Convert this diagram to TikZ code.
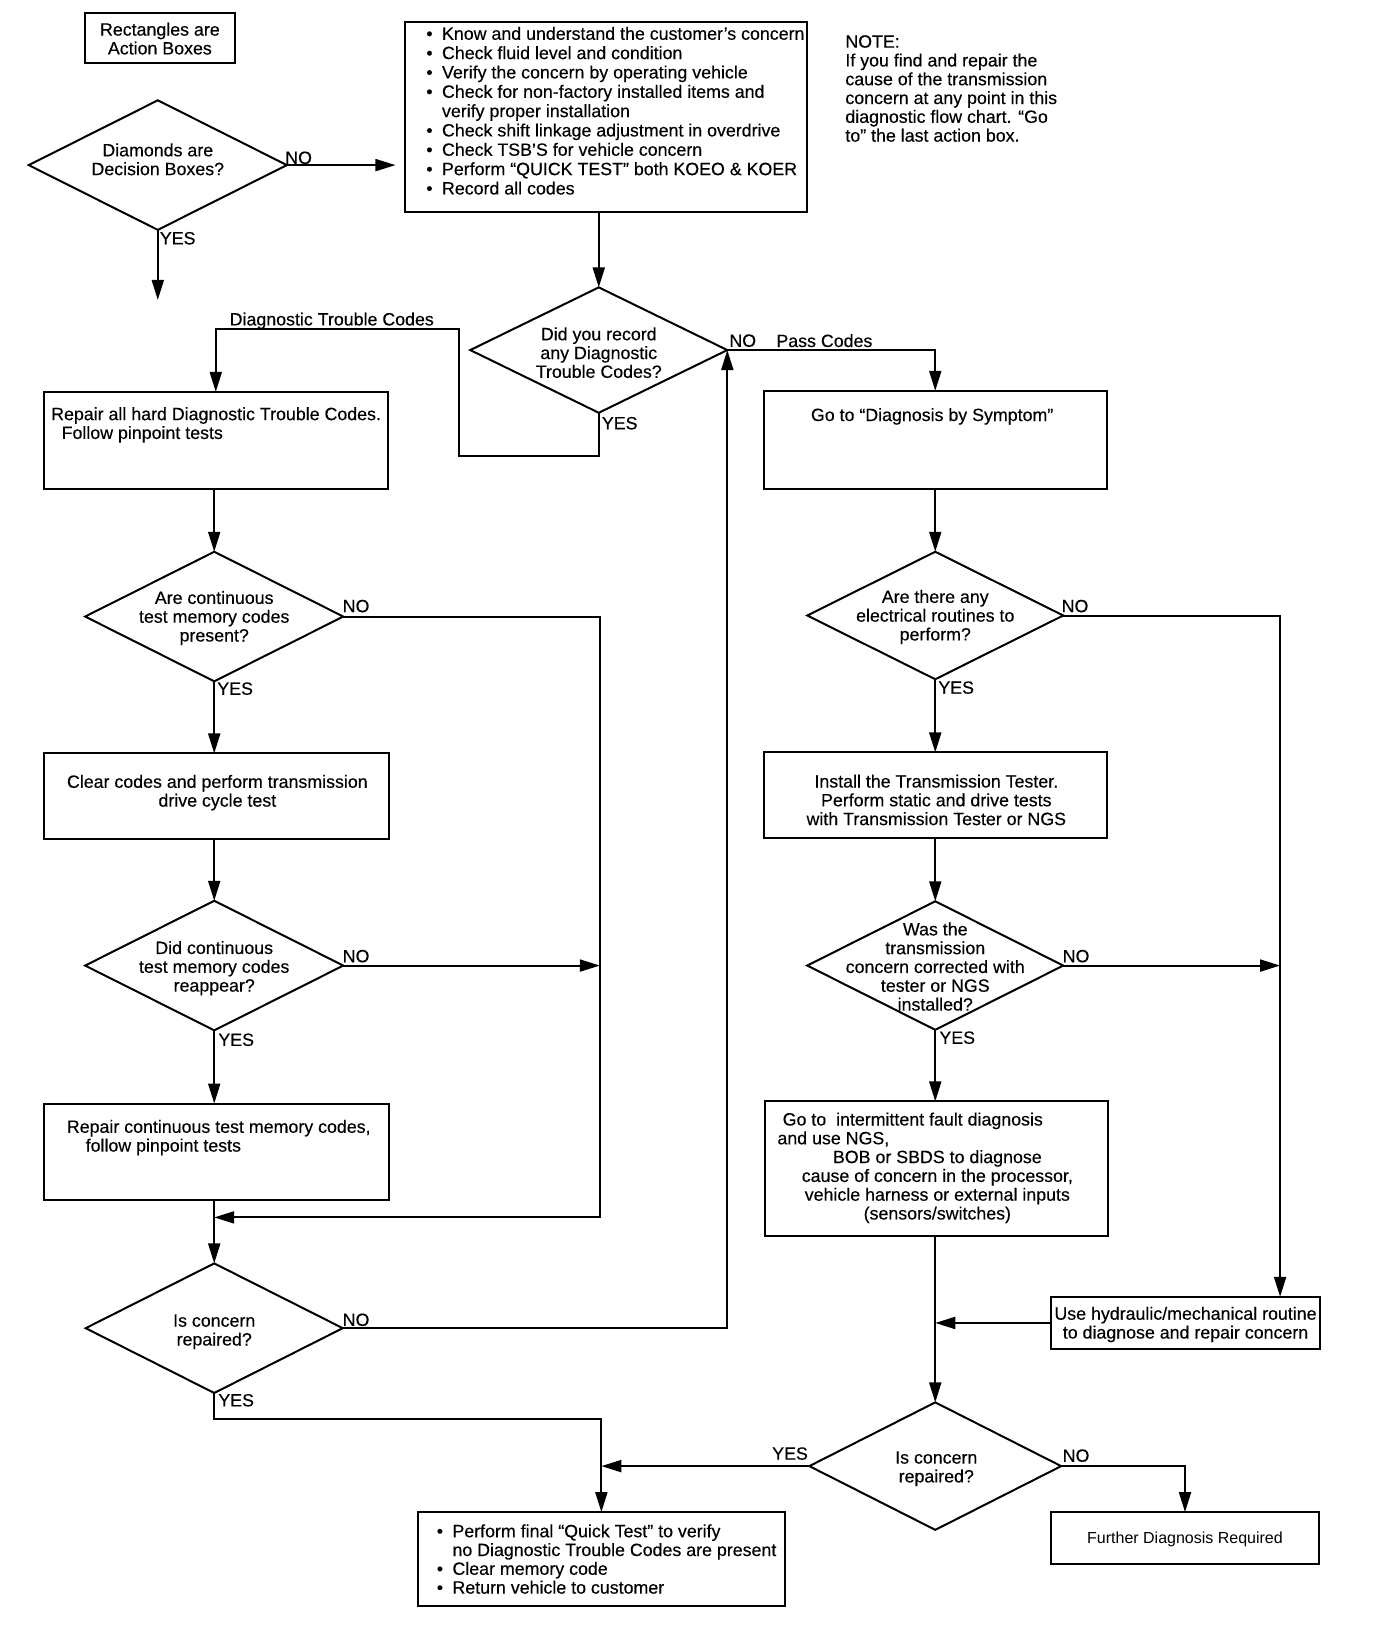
\documentclass[tikz,border=0pt]{standalone}
\usepackage{fontspec}
\setmainfont{Liberation Sans}[FakeBold=0.3]
\newfontfamily\thinfont{Liberation Sans}
\usetikzlibrary{shapes.geometric,arrows.meta}
\newlength{\dunit}\setlength{\dunit}{0.5225pt}
\newcommand{\chartfont}{\fontsize{8.9}{9.4}\selectfont}
\newcommand{\bul}{\makebox[15\dunit][l]{\textbullet}}
\newcommand{\nobul}{\hspace*{15\dunit}}
\tikzset{
 box/.style={draw, line width=1pt, rectangle, inner sep=0pt, outer sep=0pt},
 dia/.style={draw, line width=1pt, diamond, inner sep=0pt, outer sep=0pt},
 txt/.style={inner sep=0pt, outer sep=0pt, font=\chartfont},
 lab/.style={inner sep=0pt, outer sep=0pt, anchor=west, font=\chartfont},
 arr/.style={line width=1pt, -{Triangle[length=10pt,width=6pt]}},
}
\begin{document}
\begin{tikzpicture}[x=\dunit,y=-\dunit]
\fill[white] (0,0) rectangle (1317,1567.5);
\useasboundingbox (0,0) rectangle (1317,1567.5);

% ---- legend ----
\node[box, minimum width=144\dunit, minimum height=48\dunit] (B0) at (153,36) {};
\node[txt, align=center] (B0t) at (153,37) {Rectangles are\\Action Boxes};
\node[dia, minimum width=247\dunit, minimum height=124\dunit] (D0) at (151,158) {};
\node[txt, align=center] (D0t) at (151,152.5) {Diamonds are\\Decision Boxes?};
\node[lab] (D0no) at (273,151) {NO};
\node[lab] (D0yes) at (153,228) {YES};
\coordinate (d0end) at (151,287);

% ---- top box ----
\node[box, minimum width=384\dunit, minimum height=182\dunit] (B1) at (580,112) {};
\node[txt, anchor=north west, align=left, font=\fontsize{8.9}{9.67}\selectfont] (B1t) at (408,25.7) {%
\bul Know and understand the customer's concern\\
\bul Check fluid level and condition\\
\bul Verify the concern by operating vehicle\\
\bul Check for non-factory installed items and\\
\nobul verify proper installation\\
\bul Check shift linkage adjustment in overdrive\\
\bul Check TSB'S for vehicle concern\\
\bul Perform ``QUICK TEST'' both KOEO \& KOER\\
\bul Record all codes};

\node[txt, anchor=north west, align=left] (note) at (809,33.7) {NOTE:\\If you find and repair the\\cause of the transmission\\concern at any point in this\\diagnostic flow chart. ``Go\\to'' the last action box.};

% ---- decision: DTCs ----
\node[dia, minimum width=246\dunit, minimum height=120\dunit] (D1) at (573,335) {};
\node[txt, align=center] (D1t) at (573,337.5) {Did you record\\any Diagnostic\\Trouble Codes?};
\node[lab] (D1no) at (698,326) {NO};
\node[lab] (pass) at (743,326) {Pass Codes};
\node[lab] (D1yes) at (576,405) {YES};
\node[txt] (dtc) at (317.5,307) {Diagnostic Trouble Codes};

% ---- left column ----
\node[box, minimum width=329\dunit, minimum height=93\dunit] (B2) at (206.5,421.5) {};
\node[txt, anchor=north west, align=left] (B2t) at (49,389.7) {Repair all hard Diagnostic Trouble Codes.\\\hspace*{10\dunit}Follow pinpoint tests};

\node[dia, minimum width=247\dunit, minimum height=124\dunit] (D2) at (205,590) {};
\node[txt, align=center] (D2t) at (205,591.5) {Are continuous\\test memory codes\\present?};
\node[lab] (D2no) at (328,580) {NO};
\node[lab] (D2yes) at (208,659) {YES};

\node[box, minimum width=330\dunit, minimum height=82\dunit] (B3) at (207,762) {};
\node[txt, align=center] (B3t) at (208,758.5) {Clear codes and perform transmission\\drive cycle test};

\node[dia, minimum width=247\dunit, minimum height=124\dunit] (D3) at (205,924) {};
\node[txt, align=center] (D3t) at (205,926.5) {Did continuous\\test memory codes\\reappear?};
\node[lab] (D3no) at (328,915) {NO};
\node[lab] (D3yes) at (209,995) {YES};

\node[box, minimum width=330\dunit, minimum height=92\dunit] (B4) at (207,1102) {};
\node[txt, anchor=north west, align=left] (B4t) at (64,1071.7) {Repair continuous test memory codes,\\\hspace*{18\dunit}follow pinpoint tests};

\node[dia, minimum width=246\dunit, minimum height=124\dunit] (D4) at (205,1271) {};
\node[txt, align=center] (D4t) at (205,1274.5) {Is concern\\repaired?};
\node[lab] (D4no) at (328,1263) {NO};
\node[lab] (D4yes) at (209,1340) {YES};

\node[box, minimum width=351\dunit, minimum height=90\dunit] (B5) at (575.5,1492) {};
\node[txt, anchor=north west, align=left] (B5t) at (418,1458.7) {%
\bul Perform final ``Quick Test'' to verify\\
\nobul no Diagnostic Trouble Codes are present\\
\bul Clear memory code\\
\bul Return vehicle to customer};

% ---- right column ----
\node[box, minimum width=328\dunit, minimum height=94\dunit] (B6) at (895,421) {};
\node[txt] (B6t) at (892,398.5) {Go to ``Diagnosis by Symptom''};

\node[dia, minimum width=245\dunit, minimum height=122\dunit] (D5) at (895,589) {};
\node[txt, align=center] (D5t) at (895,590.5) {Are there any\\electrical routines to\\perform?};
\node[lab] (D5no) at (1016,580) {NO};
\node[lab] (D5yes) at (898,658) {YES};

\node[box, minimum width=328\dunit, minimum height=82\dunit] (B7) at (895,761) {};
\node[txt, align=center] (B7t) at (896,765.5) {Install the Transmission Tester.\\Perform static and drive tests\\with Transmission Tester or NGS};

\node[dia, minimum width=245\dunit, minimum height=123\dunit] (D6) at (895,924) {};
\node[txt, align=center] (D6t) at (895,925) {Was the\\transmission\\concern corrected with\\tester or NGS\\installed?};
\node[lab] (D6no) at (1017,915) {NO};
\node[lab] (D6yes) at (899,993) {YES};

\node[box, minimum width=328\dunit, minimum height=129\dunit] (B8) at (896,1118.5) {};
\node[txt, anchor=north west, align=left] (B8t) at (744,1064.7) {%
\hspace*{5\dunit}Go to\ \ intermittent fault diagnosis\\
and use NGS,\\
\makebox[306\dunit][c]{BOB or SBDS to diagnose}\\
\makebox[306\dunit][c]{cause of concern in the processor,}\\
\makebox[306\dunit][c]{vehicle harness or external inputs}\\
\makebox[306\dunit][c]{(sensors/switches)}};

\node[box, minimum width=257\dunit, minimum height=50\dunit] (B9) at (1134.5,1266) {};
\node[txt, align=center] (B9t) at (1134.5,1267.5) {Use hydraulic/mechanical routine\\to diagnose and repair concern};

\node[dia, minimum width=241\dunit, minimum height=122\dunit] (D7) at (895,1403) {};
\node[txt, align=center] (D7t) at (896,1405.5) {Is concern\\repaired?};
\node[lab] (D7no) at (1017,1393) {NO};
\node[lab] (D7yes) at (739,1391) {YES};

\node[box, minimum width=256\dunit, minimum height=50\dunit] (B10) at (1134,1472) {};
\node[inner sep=0pt, font=\thinfont\fontsize{8}{9}\selectfont] (B10t) at (1134,1473.5) {Further Diagnosis Required};

% ---- helper coordinates ----
\coordinate (k1) at (439,436);
\coordinate (k2) at (439,315);
\coordinate (lv) at (574,0);
\coordinate (jl) at (205,1165);
\coordinate (k3) at (205,1358);
\coordinate (rv) at (1225,0);

% ---- connectors ----
\draw[arr, shorten >=5pt] (D0.east) -- (D0.east -| B1.west);
\draw[arr] (D0.south) -- (d0end);
\draw[arr] (D1.north |- B1.south) -- (D1.north);
\draw[arr] (D1.south) |- (k1) -- (k2) -| (B2.north);
\draw[arr] (D1.east) -| (B6.north);
\draw[arr] (D2.north |- B2.south) -- (D2.north);
\draw[arr] (D2.east) -| (lv |- jl) -- (jl);
\draw[arr] (D3.east) -- (D3.east -| lv);
\draw[arr] (D2.south) -- (D2.south |- B3.north);
\draw[arr] (D3.north |- B3.south) -- (D3.north);
\draw[arr] (D3.south) -- (D3.south |- B4.north);
\draw[arr] (D4.north |- B4.south) -- (D4.north);
\draw[arr] (D4.south) -- (k3) -| (B5.north);
\draw[arr] (D7.west) -- (D7.west -| B5.north);
\draw[arr] (D4.east) -| (D1.east);
\draw[arr] (D5.north |- B6.south) -- (D5.north);
\draw[arr] (D5.east) -| (rv |- B9.north);
\draw[arr] (D6.east) -- (D6.east -| rv);
\draw[arr] (D5.south) -- (D5.south |- B7.north);
\draw[arr] (D6.north |- B7.south) -- (D6.north);
\draw[arr] (D6.south) -- (D6.south |- B8.north);
\draw[arr] (D7.north |- B8.south) -- (D7.north);
\draw[arr] (B9.west) -- (B9.west -| D7.north);
\draw[arr] (D7.east) -| (B10.north);
\end{tikzpicture}
\end{document}
